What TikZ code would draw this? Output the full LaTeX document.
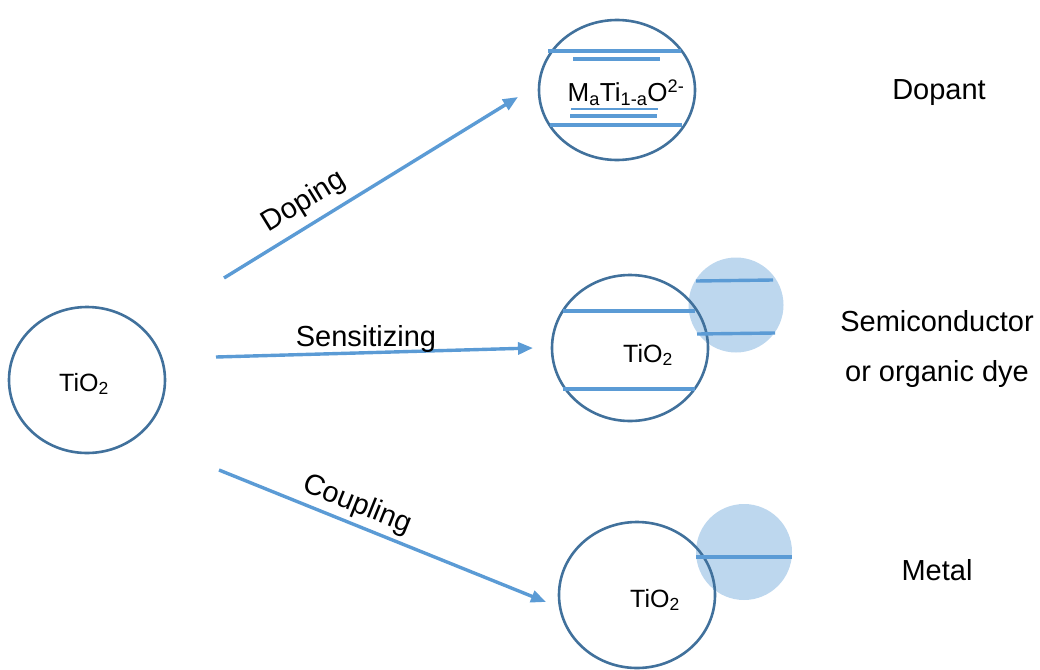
\documentclass[tikz,border=0pt]{standalone}
\usepackage{fontspec}
\setmainfont{Liberation Sans}
\usetikzlibrary{arrows.meta,shapes.geometric}
\definecolor{ring}{HTML}{41719C}
\definecolor{arr}{HTML}{5B9BD5}
\definecolor{shade}{HTML}{BDD7EE}
\tikzset{
  ring/.style={draw=ring, line width=2.6pt, ellipse, inner sep=0pt, minimum width=156pt, minimum height=146pt},
  blob/.style={fill=shade, circle, inner sep=0pt, minimum size=96pt},
  level/.style={draw=arr, line width=3.4pt},
  conn/.style={draw=arr, line width=3.4pt, -{Triangle[length=15pt,width=12pt]}},
  lab/.style={font=\fontsize{29}{34}\selectfont, inner sep=0pt},
  chem/.style={font=\fontsize{25}{30}\selectfont, inner sep=0pt},
}
\begin{document}
\begin{tikzpicture}[x=1pt,y=-1pt]
\useasboundingbox (0,0) rectangle (1040,669);
% left
\node[ring] (c0) at (87,380) {};
\node[chem] (t0) at (84,384) {TiO\textsubscript{2}};
% top
\node[ring, minimum height=140pt] (c1) at (617,90) {};
\coordinate (l1a) at (548,51); \coordinate (l1b) at (681,51);
\coordinate (l2a) at (573,59); \coordinate (l2b) at (660,59);
\coordinate (l3a) at (571,109); \coordinate (l3b) at (658,109);
\coordinate (l4a) at (570,116); \coordinate (l4b) at (657,116);
\coordinate (l5a) at (550,125); \coordinate (l5b) at (682,125);
\draw[level] (l1a) -- (l1b);
\draw[level] (l2a) -- (l2b);
\draw[level, line width=2.4pt] (l3a) -- (l3b);
\draw[level] (l4a) -- (l4b);
\draw[level] (l5a) -- (l5b);
\node[chem, font=\fontsize{26}{30}\selectfont] (t1) at (626,93) {M\textsubscript{a}Ti\textsubscript{1-a}O\textsuperscript{2-}};
% middle
\node[blob, minimum size=95pt] (b2) at (736,305) {};
\node[ring] (c2) at (630,348) {};
\coordinate (m1a) at (563,311); \coordinate (m1b) at (695,311);
\coordinate (m2a) at (563,389); \coordinate (m2b) at (695,389);
\coordinate (m3a) at (696,281); \coordinate (m3b) at (773,280);
\coordinate (m4a) at (697,334); \coordinate (m4b) at (775,333);
\draw[level] (m1a) -- (m1b);
\draw[level] (m2a) -- (m2b);
\draw[level] (m3a) -- (m3b);
\draw[level] (m4a) -- (m4b);
\node[chem] (t2) at (648,355) {TiO\textsubscript{2}};
% bottom
\node[blob] (b3) at (744,552) {};
\node[ring] (c3) at (637,595) {};
\coordinate (n1a) at (696,557); \coordinate (n1b) at (792,557);
\draw[level] (n1a) -- (n1b);
\node[chem] (t3) at (655,600) {TiO\textsubscript{2}};
% arrows
\coordinate (a1s) at (224,278); \coordinate (a1e) at (518,97);
\coordinate (a2s) at (216,357); \coordinate (a2e) at (533,348);
\coordinate (a3s) at (219,470); \coordinate (a3e) at (546,602);
\draw[conn] (a1s) -- (a1e);
\draw[conn] (a2s) -- (a2e);
\draw[conn] (a3s) -- (a3e);
\node[lab, rotate=31.6] (d) at (304,202) {Doping};
\node[lab] (s) at (366,339) {Sensitizing};
\node[lab, rotate=-22] (cp) at (357,505) {Coupling};
% right labels
\node[lab] (r1) at (939,93) {Dopant};
\node[lab] (r2) at (937,321) {Semiconductor};
\node[lab] (r3) at (937,374) {or organic dye};
\node[lab] (r4) at (937,570) {Metal};
\end{tikzpicture}
\end{document}
